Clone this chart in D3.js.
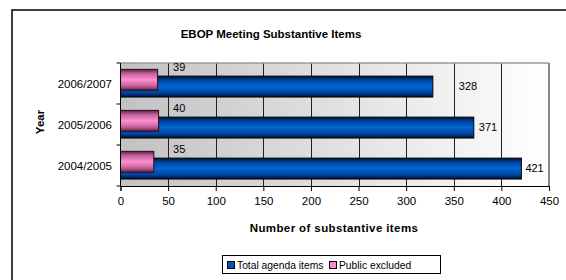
<!DOCTYPE html>
<html><head><meta charset="utf-8">
<script src="https://cdn.jsdelivr.net/npm/d3@7"></script>
<style>body{margin:0;background:#fff;}svg{display:block;font-family:"Liberation Sans",Arial,sans-serif;}</style>
</head><body><svg id="c" width="566" height="280"></svg>
<script>
const categories = ["2006/2007", "2005/2006", "2004/2005"];
const totalItems = [328, 371, 421];
const publicExcluded = [39, 40, 35];
const xTicks = [0, 50, 100, 150, 200, 250, 300, 350, 400, 450];
const seriesNames = ["Total agenda items", "Public excluded"];
const titleText = "EBOP Meeting Substantive Items";
const xTitle = "Number of substantive items";
const yTitle = "Year";

const svg = d3.select("#c");
const defs = svg.append("defs");

const bg = defs.append("linearGradient").attr("id","bg").attr("x1","0").attr("x2","1").attr("y1","0").attr("y2","0");
bg.append("stop").attr("offset","0").attr("stop-color","#c2c2c2");
bg.append("stop").attr("offset","1").attr("stop-color","#ffffff");
const gb = defs.append("linearGradient").attr("id","gb").attr("x1","0").attr("x2","0").attr("y1","0").attr("y2","1");
[["0","#001030"],["0.2","#0044a0"],["0.5","#0068d0"],["0.8","#0044a0"],["1","#001030"]].forEach(s=>gb.append("stop").attr("offset",s[0]).attr("stop-color",s[1]));
const gp = defs.append("linearGradient").attr("id","gp").attr("x1","0").attr("x2","0").attr("y1","0").attr("y2","1");
[["0","#5a2040"],["0.2","#c0609a"],["0.5","#ff8fcf"],["0.8","#c0609a"],["1","#5a2040"]].forEach(s=>gp.append("stop").attr("offset",s[0]).attr("stop-color",s[1]));

svg.append("rect").attr("x",12).attr("y",10).attr("width",600).attr("height",300)
  .attr("fill","#fff").attr("stroke","#000").attr("stroke-width",1.5);

const x = d3.scaleLinear().domain([0,450]).range([120.5,549]);
const y = d3.scaleBand().domain(categories).range([63,186]);
const bw = y.bandwidth();

svg.append("rect").attr("x",x(0)).attr("y",y.range()[0]).attr("width",x(450)-x(0)).attr("height",y.range()[1]-y.range()[0]).attr("fill","url(#bg)");

svg.append("g").selectAll("line").data(xTicks.filter(d=>d>0 && d<450)).join("line")
  .attr("x1",d=>Math.round(x(d))+0.5).attr("x2",d=>Math.round(x(d))+0.5)
  .attr("y1",y.range()[0]).attr("y2",y.range()[1]).attr("stroke","#202020").attr("stroke-width",1);

svg.append("line").attr("x1",x(0)).attr("x2",x(450)).attr("y1",63).attr("y2",63).attr("stroke","#999").attr("stroke-width",1.5);
svg.append("line").attr("x1",x(450)).attr("x2",x(450)).attr("y1",63).attr("y2",186).attr("stroke","#888").attr("stroke-width",2);

const data = categories.map((c,i)=>({c, total: totalItems[i], pub: publicExcluded[i]}));
const barH = bw*0.51;
const blueOff = bw*0.32, pinkOff = bw*0.155;

svg.append("g").selectAll("rect").data(data).join("rect")
  .attr("x",x(0)).attr("y",d=>y(d.c)+blueOff).attr("width",d=>x(d.total)-x(0)).attr("height",barH)
  .attr("fill","url(#gb)").attr("stroke","#000").attr("stroke-width",1);
svg.append("g").selectAll("rect").data(data).join("rect")
  .attr("x",x(0)).attr("y",d=>y(d.c)+pinkOff).attr("width",d=>x(d.pub)-x(0)).attr("height",barH)
  .attr("fill","url(#gp)").attr("stroke","#2a0a1a").attr("stroke-width",1);

const blueLabelDx = [26, 5, 4];
svg.append("g").selectAll("text").data(data).join("text")
  .attr("x",(d,i)=>x(d.total)+blueLabelDx[i]).attr("y",d=>y(d.c)+blueOff+barH/2)
  .attr("dy","0.35em").attr("font-size",11).attr("fill","#000").text(d=>d.total);
svg.append("g").selectAll("text").data(data).join("text")
  .attr("x",x(50)+5).attr("y",d=>y(d.c)+4)
  .attr("dy","0.35em").attr("font-size",11).attr("fill","#000").text(d=>d.pub);

svg.append("line").attr("x1",x(0)).attr("x2",x(0)).attr("y1",63).attr("y2",187).attr("stroke","#000").attr("stroke-width",1);
const bounds = categories.map(c=>y(c)).concat([y.range()[1]]);
svg.append("g").selectAll("line").data(bounds).join("line")
  .attr("x1",x(0)-4).attr("x2",x(0)).attr("y1",d=>d).attr("y2",d=>d).attr("stroke","#000");
svg.append("g").selectAll("text").data(categories).join("text")
  .attr("x",112).attr("y",d=>y(d)+bw/2).attr("dy","0.35em").attr("text-anchor","end")
  .attr("font-size",11.5).text(d=>d);

const xa = svg.append("g").attr("transform","translate(0,186)")
  .call(d3.axisBottom(x).tickValues(xTicks).tickSize(5).tickPadding(6).tickFormat(d3.format("d")));
xa.select(".domain").attr("stroke","#000");
xa.selectAll(".tick line").attr("stroke","#000");
xa.selectAll("text").attr("font-size",11.5).attr("font-family","Liberation Sans, Arial, sans-serif").attr("fill","#000");

svg.append("text").attr("x",271).attr("y",34).attr("dy","0.35em").attr("text-anchor","middle")
  .attr("font-size",11.5).attr("font-weight","bold").text(titleText);
svg.append("text").attr("x",334).attr("y",228).attr("dy","0.35em").attr("text-anchor","middle")
  .attr("font-size",11.5).attr("font-weight","bold").attr("letter-spacing",0.4).text(xTitle);
svg.append("text").attr("transform","translate(40,122) rotate(-90)").attr("dy","0.35em").attr("text-anchor","middle")
  .attr("font-size",11.5).attr("font-weight","bold").text(yTitle);

const lg = svg.append("g");
lg.append("rect").attr("x",222.5).attr("y",255.5).attr("width",218).attr("height",18).attr("fill","#fff").attr("stroke","#000");
const legFill = ["#0055b0","#ff88cc"];
const legX = [227, 329];
seriesNames.forEach((n,i)=>{
  lg.append("rect").attr("x",legX[i]+0.5).attr("y",261.5).attr("width",7).attr("height",7).attr("fill",legFill[i]).attr("stroke","#000");
  lg.append("text").attr("x",legX[i]+10).attr("y",265).attr("dy","0.35em").attr("font-size",10.3).text(n);
});
</script></body></html>
